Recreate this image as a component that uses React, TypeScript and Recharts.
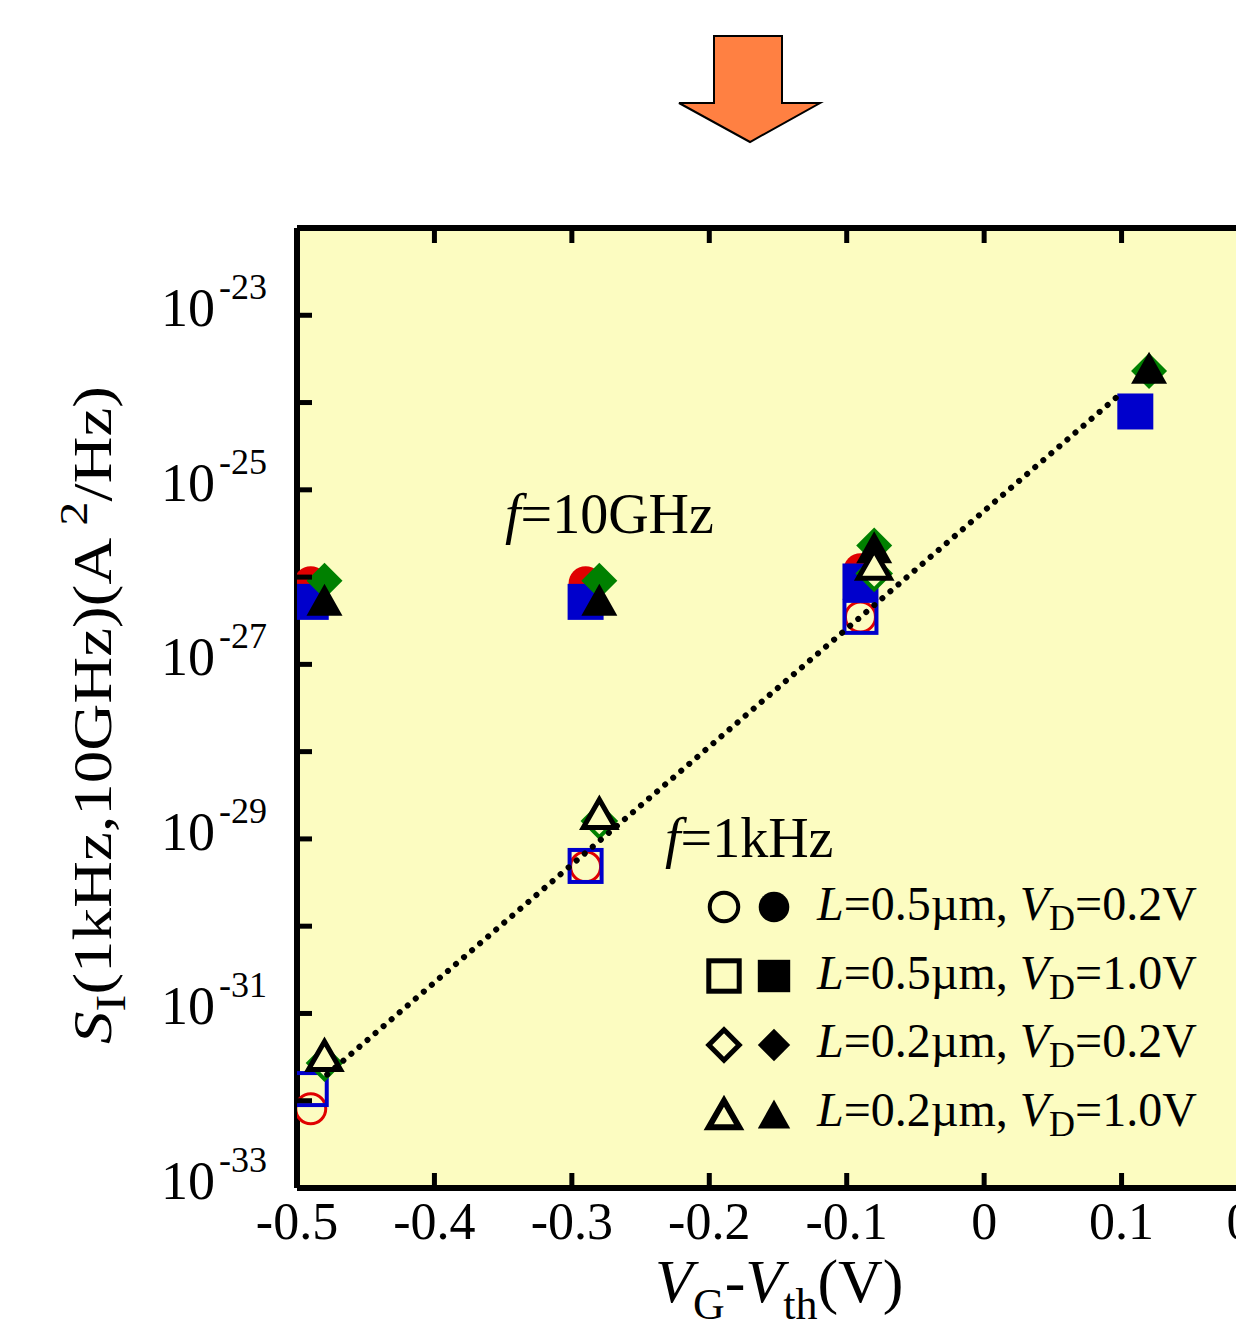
import React from "react";
import {
  ScatterChart,
  Scatter,
  XAxis,
  YAxis,
  CartesianGrid,
  ReferenceLine,
} from "recharts";

const FONT = '"Liberation Serif", "Times New Roman", serif';
const BG = "#FCFCC1";
const PLOT_TOP = 228;

// gate overdrive positions for the two channel lengths
const vgL05 = [-0.49, -0.29, -0.09, 0.11];
const vgL02 = [-0.48, -0.28, -0.08, 0.12];

// f = 10 GHz (filled symbols)
const hf_L05_VD02 = [8.5e-27, 8.5e-27, 1.2e-26, null];
const hf_L05_VD10 = [5.2e-27, 5.2e-27, 8.9e-27, 7.9e-25];
const hf_L02_VD02 = [9.1e-27, 9.1e-27, 2.3e-26, 2.3e-24];
const hf_L02_VD10 = [5.5e-27, 5.5e-27, 2.2e-26, 2.5e-24];

// f = 1 kHz (open symbols)
const lf_L05_VD02 = [8.1e-33, 4.8e-30, 3.5e-27, null];
const lf_L05_VD10 = [1.36e-32, 4.9e-30, 3.5e-27, null];
const lf_L02_VD02 = [2.7e-32, 1.6e-29, 1.1e-26, null];
const lf_L02_VD10 = [3.3e-32, 1.95e-29, 1.4e-26, null];

// dotted guide line
const fitX = [-0.478, 0.0964];
const fitY = [2.0e-32, 1.15e-24];

const xTicks = [-0.5, -0.4, -0.3, -0.2, -0.1, 0, 0.1, 0.2];
const yTicks = [1e-33, 1e-32, 1e-31, 1e-30, 1e-29, 1e-28, 1e-27, 1e-26, 1e-25, 1e-24, 1e-23, 1e-22];

const zip = (xs: number[], ys: (number | null)[]) =>
  xs.map((x, i) => ({ x, y: ys[i] })).filter((d) => d.y !== null);

type Kind = "circle" | "square" | "diamond" | "triangle";

function Marker({ kind, cx, cy, color, filled, scale = 1, bold = 0 }: any) {
  const fill = filled ? color : BG;
  const sw = filled ? 0 : (kind === "circle" ? 3 : kind === "triangle" ? 5 : 4) + bold;
  const stroke = filled ? "none" : color;
  if (kind === "circle") {
    const r = (filled ? 17 : 15) * scale;
    return <circle cx={cx} cy={cy} r={r} fill={fill} stroke={stroke} strokeWidth={sw} />;
  }
  if (kind === "square") {
    const h = (filled ? 18 : 16) * scale;
    return (
      <rect x={cx - h} y={cy - h} width={2 * h} height={2 * h}
        fill={filled ? color : "none"} stroke={stroke} strokeWidth={sw} />
    );
  }
  if (kind === "diamond") {
    const h = (filled ? 18 : 16) * scale;
    return (
      <polygon points={`${cx},${cy - h} ${cx + h},${cy} ${cx},${cy + h} ${cx - h},${cy}`}
        fill={fill} stroke={stroke} strokeWidth={sw} strokeLinejoin="miter" />
    );
  }
  const w = (filled ? 18 : 16) * scale;
  const t = (filled ? 16 : 14) * scale;
  return (
    <polygon points={`${cx},${cy - t} ${cx + w},${cy + t} ${cx - w},${cy + t}`}
      fill={fill} stroke={stroke} strokeWidth={sw} strokeLinejoin="miter" />
  );
}

const series: { name: string; data: { x: number; y: number | null }[]; kind: Kind; color: string; filled: boolean }[] = [
  { name: "10G L0.5 VD0.2", data: zip(vgL05, hf_L05_VD02), kind: "circle", color: "#E00000", filled: true },
  { name: "10G L0.5 VD1.0", data: zip(vgL05, hf_L05_VD10), kind: "square", color: "#0000CC", filled: true },
  { name: "10G L0.2 VD0.2", data: zip(vgL02, hf_L02_VD02), kind: "diamond", color: "#008000", filled: true },
  { name: "10G L0.2 VD1.0", data: zip(vgL02, hf_L02_VD10), kind: "triangle", color: "#000000", filled: true },
  { name: "1k L0.5 VD0.2", data: zip(vgL05, lf_L05_VD02), kind: "circle", color: "#E00000", filled: false },
  { name: "1k L0.5 VD1.0", data: zip(vgL05, lf_L05_VD10), kind: "square", color: "#0000CC", filled: false },
  { name: "1k L0.2 VD0.2", data: zip(vgL02, lf_L02_VD02), kind: "diamond", color: "#008000", filled: false },
  { name: "1k L0.2 VD1.0", data: zip(vgL02, lf_L02_VD10), kind: "triangle", color: "#000000", filled: false },
];

const fitData = fitX.map((x, i) => ({ x, y: fitY[i] }));

function XTick({ x, y, payload }: any) {
  const v = payload.value;
  const label = v === 0 ? "0" : v.toFixed(1);
  return (
    <g>
      <line x1={x} x2={x} y1={y} y2={y - 15} stroke="#000" strokeWidth={5} />
      <line x1={x} x2={x} y1={PLOT_TOP} y2={PLOT_TOP + 15} stroke="#000" strokeWidth={5} />
      <text x={x} y={y + 51} textAnchor="middle" fontSize={52} fontFamily={FONT} fill="#000">
        {label}
      </text>
    </g>
  );
}

function YTick({ x, y, payload }: any) {
  const exp = Math.round(Math.log10(payload.value));
  return (
    <g>
      <line x1={x} x2={x + 15} y1={y} y2={y} stroke="#000" strokeWidth={5} />
      {exp % 2 !== 0 && (
        <text fontFamily={FONT} fill="#000">
          <tspan x={x - 82} y={y + 11} textAnchor="end" fontSize={54}>10</tspan>
          <tspan x={x - 78} y={y - 16} textAnchor="start" fontSize={36}>{`-${Math.abs(exp)}`}</tspan>
        </text>
      )}
    </g>
  );
}

const legendRows: { kind: Kind; text: string; vd: string }[] = [
  { kind: "circle", text: "=0.5µm, ", vd: "=0.2V" },
  { kind: "square", text: "=0.5µm, ", vd: "=1.0V" },
  { kind: "diamond", text: "=0.2µm, ", vd: "=0.2V" },
  { kind: "triangle", text: "=0.2µm, ", vd: "=1.0V" },
];

function Overlay() {
  return (
    <svg width={1236} height={1324} style={{ position: "absolute", left: 0, top: 0, pointerEvents: "none" }}>
      <polygon points="714,36 782,36 782,103 820,103 750,142 679,103 714,103"
        fill="#FF8042" stroke="#000" strokeWidth={2} />
      <text x={505} y={533} fontSize={56} fontFamily={FONT} fill="#000">
        <tspan fontStyle="italic">f</tspan>=10GHz
      </text>
      <text x={665} y={857} fontSize={56} fontFamily={FONT} fill="#000">
        <tspan fontStyle="italic">f</tspan>=1kHz
      </text>
      {legendRows.map((r, i) => {
        const cy = 907 + i * 69;
        const base = 920 + i * 68.5;
        return (
          <g key={i}>
            <Marker kind={r.kind} cx={724} cy={cy} color="#000" filled={false} scale={0.95} bold={1} />
            <Marker kind={r.kind} cx={774} cy={cy} color="#000" filled scale={0.9} />
            <text x={817} y={base} fontSize={48} fontFamily={FONT} fill="#000">
              <tspan fontStyle="italic">L</tspan>
              {r.text}
              <tspan fontStyle="italic">V</tspan>
              <tspan dy={10} fontSize={36}>D</tspan>
              <tspan dy={-10}>{r.vd}</tspan>
            </text>
          </g>
        );
      })}
      <text transform="translate(111,715) rotate(-90)" textAnchor="middle" fontSize={54}
        fontFamily={FONT} fill="#000" textLength={658} lengthAdjust="spacingAndGlyphs">
        <tspan fontStyle="italic">S</tspan>
        <tspan dy={14} fontSize={42}>I</tspan>
        <tspan dy={-14}>(1kHz,10GHz)(A</tspan>
        <tspan dy={-24} fontSize={40}> 2</tspan>
        <tspan dy={24}>/Hz)</tspan>
      </text>
      <text x={655} y={1302} fontSize={62} fontFamily={FONT} fill="#000">
        <tspan fontStyle="italic">V</tspan>
        <tspan dy={17} fontSize={44}>G</tspan>
        <tspan dy={-17}>-</tspan>
        <tspan fontStyle="italic">V</tspan>
        <tspan dy={17} fontSize={44}>th</tspan>
        <tspan dy={-17}>(V)</tspan>
      </text>
    </svg>
  );
}

export default function App() {
  return (
    <div style={{ position: "absolute", left: 0, top: 0, width: 1236, height: 1324, overflow: "hidden", background: "#fff" }}>
      <ScatterChart width={1300} height={1324} margin={{ top: PLOT_TOP, right: 41, bottom: 0, left: 0 }}>
        <CartesianGrid fill={BG} stroke="none" />
        <XAxis
          type="number"
          dataKey="x"
          domain={[-0.5, 0.2]}
          ticks={xTicks}
          interval={0}
          allowDataOverflow
          height={136}
          axisLine={{ stroke: "#000", strokeWidth: 6 }}
          tickLine={false}
          tickSize={0}
          tickMargin={0}
          tick={(p: any) => <XTick {...p} />}
        />
        <YAxis
          type="number"
          dataKey="y"
          scale="log"
          domain={[1e-33, 1e-22]}
          ticks={yTicks}
          interval={0}
          allowDataOverflow
          width={297}
          axisLine={{ stroke: "#000", strokeWidth: 6 }}
          tickLine={false}
          tickSize={0}
          tickMargin={0}
          tick={(p: any) => <YTick {...p} />}
        />
        <ReferenceLine y={1e-22} stroke="#000" strokeWidth={6} />
        {series.map((s) => (
          <Scatter
            key={s.name}
            name={s.name}
            data={s.data}
            isAnimationActive={false}
            shape={(p: any) => (
              <Marker kind={s.kind} cx={p.cx} cy={p.cy} color={s.color} filled={s.filled} />
            )}
          />
        ))}
        <Scatter
          name="fit"
          data={fitData}
          isAnimationActive={false}
          line={{ stroke: "#000", strokeWidth: 6, strokeDasharray: "0.1 10.5", strokeLinecap: "round" }}
          shape={() => <g />}
        />
      </ScatterChart>
      <Overlay />
    </div>
  );
}
